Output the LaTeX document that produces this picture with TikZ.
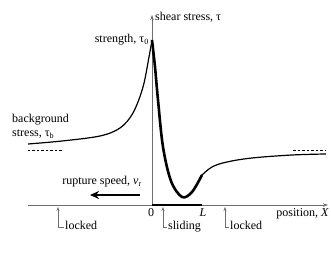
\documentclass[tikz,border=0pt]{standalone}
\usepackage{fontspec}
\setmainfont{Liberation Serif}
\usetikzlibrary{arrows.meta, positioning}
\definecolor{ejegris}{HTML}{6E6E6E}
\tikzset{
  every picture/.style={font=\fontsize{12}{14}\selectfont, >=Stealth},
  eje/.style={draw=ejegris, line width=0.7pt, -{Stealth[length=5pt,width=3.5pt]}},
  curva/.style={line width=1.2pt},
  curvag/.style={line width=2.6pt},
  asint/.style={line width=0.8pt, dash pattern=on 2.5pt off 2pt},
  marca/.style={draw=ejegris, line width=0.6pt, -{Stealth[length=4pt,width=3pt]}},
  etiq/.style={inner sep=1pt, text height=8pt, text depth=2pt},
  flechav/.style={line width=1.5pt, -{Stealth[length=9pt,width=8pt]}},
}
\begin{document}
\begin{tikzpicture}[x=1pt, y=1pt]
  \useasboundingbox (-152,-51) rectangle (179,205);
  % ejes
  \coordinate (O) at (0,0);
  \coordinate (ytop) at (0,190);
  \coordinate (xizq) at (-124,0);
  \coordinate (xder) at (176,0);
  \draw[eje] (xizq) -- (xder);
  \draw[eje] (O) -- (ytop);
  \node[anchor=west, inner sep=1pt] (ylab) at (2,188) {shear stress, τ};
  \node[anchor=east, inner sep=1pt] (xlab) at (178,-9) {position, \textit{X}};
  \node[inner sep=1pt] (cero) at (-1,-8) {0};
  \node[inner sep=1pt] (ele) at (51,-8) {\textit{L}};
  % tension de corte
  \draw[curva] plot[smooth, tension=0.55] coordinates {(-124,61) (-90,64) (-52,69) (-32,77) (-19,92) (-9,118) (-3,148) (0,165)};
  \draw[curvag, line join=round] plot[smooth, tension=0.55] coordinates {(0,165) (3,138) (6,105) (11,58) (19,24) (30,8) (40,13) (50,30)};
  \draw[curva] plot[smooth, tension=0.6] coordinates {(49,29) (60,38) (75,43) (100,47) (140,50) (174,51)};
  \draw[curvag] (O) -- (50,0);
  \draw[asint] (-124,55) -- (-90,55);
  \draw[asint] (141,55) -- (174,55);
  \node[anchor=east, inner sep=1pt] (tau0) at (-2,165) {strength, τ\textsubscript{0}};
  \node[anchor=west, align=left, inner sep=1pt] (taub) at (-141,79) {background\\stress, τ\textsubscript{b}};
  % ruptura
  \node[inner sep=1pt] (vr) at (-50,23) {rupture speed, \textit{v}\textsubscript{r}};
  \coordinate (vr1) at (-12,10);
  \coordinate (vr2) at (-62,10);
  \draw[flechav] (vr1) -- (vr2);
  % zonas
  \node[etiq, anchor=west] (lk1) at (-88,-22) {locked};
  \node[etiq, anchor=west] (sl) at (15,-22) {sliding};
  \node[etiq, anchor=west] (lk2) at (77,-22) {locked};
  \coordinate (lk1t) at (-94,-2);
  \coordinate (slt) at (11,-2);
  \coordinate (lk2t) at (73,-2);
  \draw[marca] (lk1.west) -| (lk1t);
  \draw[marca] (sl.west) -| (slt);
  \draw[marca] (lk2.west) -| (lk2t);
\end{tikzpicture}
\end{document}
